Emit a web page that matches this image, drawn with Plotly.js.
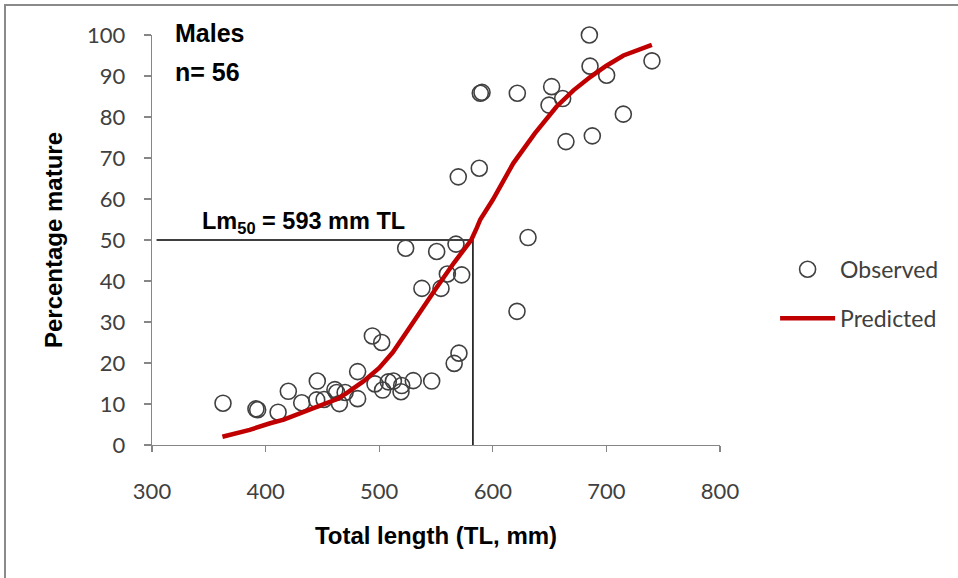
<!DOCTYPE html>
<html>
<head>
<meta charset="utf-8">
<script src="https://cdn.plot.ly/plotly-3.0.1.min.js"></script>
<style>
  html, body { margin: 0; padding: 0; background: #ffffff; }
  #chart { width: 958px; height: 578px; }
</style>
</head>
<body>
<div id="chart"></div>
<script>
// Observed maturity points (total length mm, percentage mature)
const obsX = [362.5, 391.5, 393, 411, 420, 431.8, 445.5, 445, 451.5, 461, 462.6, 465, 470,
  481, 481, 494, 502.2, 496.3, 503, 508, 512.5, 519.8, 519.2, 530, 546.2, 566, 570.2,
  523.3, 550.6, 567.6, 560, 572.6, 537.6, 554.4, 569.6, 588.1, 589, 590.5, 621.6, 621.3,
  631, 649.5, 651.8, 661.5, 664.4, 685, 685.6, 687.6, 700.2, 714.9, 740.1];
const obsY = [10.2, 8.8, 8.6, 8.0, 13.1, 10.3, 15.6, 11.0, 11.1, 13.5, 12.8, 10.1, 12.8,
  17.9, 11.3, 26.6, 25.0, 14.9, 13.4, 15.4, 15.6, 14.5, 13.0, 15.7, 15.6, 19.9, 22.4,
  48.0, 47.2, 49.0, 41.7, 41.5, 38.2, 38.2, 65.4, 67.5, 85.8, 86.0, 85.8, 32.6,
  50.6, 82.9, 87.4, 84.5, 74.0, 100, 92.4, 75.4, 90.2, 80.7, 93.7];

// Predicted (fitted logistic) curve
const predX = [362, 386, 404, 416, 445, 463, 471, 486, 500, 512, 524, 537, 551, 566, 581, 586, 589,
  600, 618, 637, 656, 671, 686, 700, 715, 740];
const predY = [2.0, 3.7, 5.3, 6.2, 9.3, 11.2, 12.6, 15.5, 18.8, 22.6, 27.5, 33.0, 38.6, 44.5, 50.0, 53.0, 55.0,
  59.8, 68.7, 76.0, 82.5, 86.5, 89.8, 92.5, 95.0, 97.6];

// Lm50 guide lines
const lmX = [304, 582.5, 582.5];
const lmY = [50, 50, 0];

// Axis ticks
const xTicks = [300, 400, 500, 600, 700, 800];
const yTicks = [0, 10, 20, 30, 40, 50, 60, 70, 80, 90, 100];

const tickFont = {family: 'Lato, "Open Sans", sans-serif', size: 22, color: '#404040'};
const boldFont = {family: '"Liberation Sans", Arial, sans-serif', size: 24, color: '#000000', weight: 'bold'};

const traces = [
  {
    x: lmX, y: lmY, type: 'scatter', mode: 'lines',
    line: {color: '#000000', width: 1.5},
    showlegend: false, hoverinfo: 'skip'
  },
  {
    x: obsX, y: obsY, type: 'scatter', mode: 'markers', name: 'Observed',
    legendgroup: 'a', cliponaxis: false,
    marker: {symbol: 'circle-open', size: 16, color: '#404040', line: {width: 1.6, color: '#404040'}}
  },
  {
    x: predX, y: predY, type: 'scatter', mode: 'lines', name: 'Predicted',
    legendgroup: 'b',
    line: {color: '#c00000', width: 4.5}
  }
];

const layout = {
  width: 958, height: 578,
  margin: {l: 152, r: 238, t: 35, b: 133},
  paper_bgcolor: '#ffffff', plot_bgcolor: '#ffffff',
  xaxis: {
    range: [300, 800], tickvals: xTicks, ticktext: xTicks.map(String),
    showgrid: false, zeroline: false, showline: true, linecolor: '#868686', linewidth: 1.3,
    ticks: 'outside', ticklen: 6, tickcolor: '#868686', tickwidth: 1.3,
    tickfont: tickFont, ticklabelstandoff: 20,
    title: {text: 'Total length (TL, mm)', font: boldFont, standoff: 24},
    automargin: false
  },
  yaxis: {
    range: [0, 100], tickvals: yTicks, ticktext: yTicks.map(String),
    showgrid: false, zeroline: false, showline: true, linecolor: '#868686', linewidth: 1.3,
    ticks: 'outside', ticklen: 7, tickcolor: '#868686', tickwidth: 1.3,
    tickfont: tickFont, ticklabelstandoff: 14,
    title: {text: 'Percentage mature', font: boldFont, standoff: 17},
    automargin: false
  },
  legend: {
    x: 1.097, y: 0.481, xanchor: 'left', yanchor: 'top',
    font: {family: 'Lato, "Open Sans", sans-serif', size: 23, color: '#404040'},
    itemwidth: 55, tracegroupgap: 16, traceorder: 'grouped',
    bgcolor: 'rgba(0,0,0,0)'
  },
  annotations: [
    {xref: 'paper', yref: 'paper', x: 0.037, y: 1.045, xanchor: 'left', yanchor: 'top',
     text: '<b>Males</b>', showarrow: false, font: {family: '"Liberation Sans", Arial, sans-serif', size: 25, color: '#000'}},
    {xref: 'paper', yref: 'paper', x: 0.037, y: 0.95, xanchor: 'left', yanchor: 'top',
     text: '<b>n= 56</b>', showarrow: false, font: {family: '"Liberation Sans", Arial, sans-serif', size: 25, color: '#000'}},
    {xref: 'x', yref: 'y', x: 342, y: 50.3, xanchor: 'left', yanchor: 'bottom',
     text: '<b>Lm<sub>50</sub> = 593 mm TL</b>', showarrow: false,
     font: {family: '"Liberation Sans", Arial, sans-serif', size: 23.5, color: '#000'}}
  ],
  shapes: [
    {type: 'rect', xref: 'paper', yref: 'paper', x0: -0.2588, x1: 1.43, y0: -0.335, y1: 1.0732,
     line: {color: '#8a8a8a', width: 2}, fillcolor: 'rgba(0,0,0,0)', layer: 'below'}
  ]
};

Plotly.newPlot('chart', traces, layout, {displayModeBar: false, staticPlot: true});
</script>
</body>
</html>
